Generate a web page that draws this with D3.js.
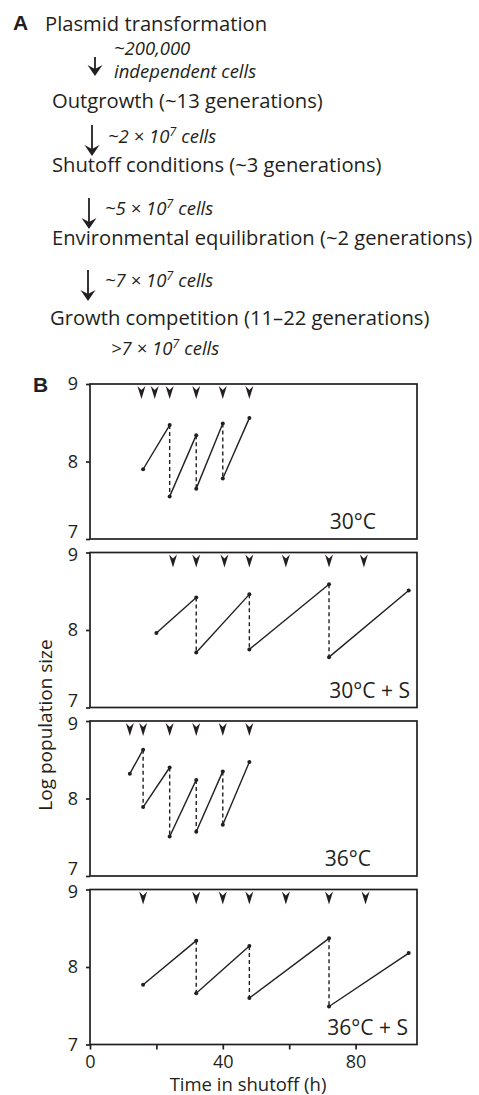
<!DOCTYPE html>
<html>
<head>
<meta charset="utf-8">
<script src="https://cdn.jsdelivr.net/npm/d3@7"></script>
<style>
  body { margin: 0; background: #fff; }
  svg { display: block; font-family: "Open Sans", sans-serif; }
</style>
</head>
<body>
<svg id="chart" width="479" height="1095"></svg>
<script>
// Panel A: protocol steps and the cell counts carried between them
const steps = [
  "Plasmid transformation",
  "Outgrowth (~13 generations)",
  "Shutoff conditions (~3 generations)",
  "Environmental equilibration (~2 generations)",
  "Growth competition (11–22 generations)"
];
const cellCounts = [
  ["~200,000", "independent cells"],
  ["~2 × 10^7 cells"],
  ["~5 × 10^7 cells"],
  ["~7 × 10^7 cells"],
  [">7 × 10^7 cells"]
];

// Panel B: growth segments [startTime, startLog, endTime, endLog]
const conditions = ["30°C", "30°C + S", "36°C", "36°C + S"];
const growth30 = [[16, 7.90, 24, 8.47], [24, 7.55, 32, 8.34], [32, 7.65, 40, 8.49], [40, 7.78, 48, 8.56]];
const growth30S = [[20, 7.96, 32, 8.42], [32, 7.71, 48, 8.46], [48, 7.75, 72, 8.59], [72, 7.65, 96, 8.51]];
const growth36 = [[12, 8.32, 16, 8.63], [16, 7.89, 24, 8.40], [24, 7.51, 32, 8.24], [32, 7.57, 40, 8.35], [40, 7.66, 48, 8.47]];
const growth36S = [[16, 7.77, 32, 8.34], [32, 7.66, 48, 8.27], [48, 7.60, 72, 8.37], [72, 7.49, 96, 8.18]];
// sampling times (arrowheads along the top)
const samples30 = [15.5, 19.5, 24, 32, 40, 48];
const samples30S = [25, 32, 40.5, 48, 59, 72, 82.5];
const samples36 = [12, 16, 24, 32, 40, 48];
const samples36S = [16, 32, 40, 48, 59, 72, 83];

const yTicks = [7, 8, 9];
const xTicks = [0, 20, 40, 60, 80];
const xTickLabels = ["0", "", "40", "", "80"];

const ink = "#231f20";
const svg = d3.select("#chart");

// write "a × 10^7 b" with a raised exponent
function richText(sel, str) {
  const parts = str.split(/\^(\d+)/);
  parts.forEach((p, i) => {
    if (i % 2 === 1) {
      sel.append("tspan").attr("dy", -7).attr("font-size", "70%").text(p);
    } else if (p) {
      sel.append("tspan").attr("dy", i > 0 ? 7 : 0).text(p);
    }
  });
}

function downArrow(g, x, y0, y1) {
  g.append("line").attr("x1", x).attr("x2", x).attr("y1", y0).attr("y2", y1 - 6)
    .attr("stroke", ink).attr("stroke-width", 1.8);
  g.append("path")
    .attr("d", `M${x},${y1} L${x - 7.5},${y1 - 11} L${x},${y1 - 7} L${x + 7.5},${y1 - 11} Z`)
    .attr("fill", ink);
}

// ---- Panel A ----
const stepPos = [[45, 31], [52, 108], [52, 172], [52, 245], [50, 325]];
const arrowPos = [[95, 57, 76], [92, 125, 156], [89, 198, 229], [88, 270, 301]];
const countPos = [[114, 55], [108, 143], [105, 215], [105, 287], [111, 355]];

const gA = svg.append("g");
gA.append("text").attr("x", 13).attr("y", 30)
  .attr("font-family", "Liberation Sans, Arial, sans-serif").attr("font-weight", "bold")
  .attr("font-size", 21).attr("fill", ink).text("A");

steps.forEach((s, i) => {
  gA.append("text").attr("x", stepPos[i][0]).attr("y", stepPos[i][1])
    .attr("font-size", 20.2).attr("fill", ink).text(s);
});
arrowPos.forEach(a => downArrow(gA, a[0], a[1], a[2]));
cellCounts.forEach((lines, i) => {
  lines.forEach((l, j) => {
    const t = gA.append("text").attr("x", countPos[i][0]).attr("y", countPos[i][1] + j * 23)
      .attr("font-size", 18.5).attr("font-style", "italic").attr("fill", ink);
    richText(t, l);
  });
});

// ---- Panel B ----
const left = 90, right = 417, panelH = 155;
const tops = [384, 552.5, 721, 889.5];
const growth = [growth30, growth30S, growth36, growth36S];
const samples = [samples30, samples30S, samples36, samples36S];
const labelX = [376, 410, 371, 408];

const x = d3.scaleLinear().domain([0, 98.5]).range([left, right]);

svg.append("text").attr("x", 33).attr("y", 392)
  .attr("font-family", "Liberation Sans, Arial, sans-serif").attr("font-weight", "bold")
  .attr("font-size", 21).attr("fill", ink).text("B");

conditions.forEach((cond, k) => {
  const top = tops[k];
  const last = k === conditions.length - 1;
  const y = d3.scaleLinear().domain([7, 9]).range([top + panelH, top]);
  const g = svg.append("g");

  // frame
  g.append("rect").attr("x", left).attr("y", top).attr("width", right - left).attr("height", panelH)
    .attr("fill", "none").attr("stroke", ink).attr("stroke-width", 1.7);

  // y axis
  const ya = g.append("g").attr("transform", `translate(${left},0)`)
    .call(d3.axisLeft(y).tickValues(yTicks).tickFormat(d3.format("d")).tickSize(4).tickPadding(8));
  ya.select(".domain").remove();
  ya.selectAll("line").attr("stroke", ink).attr("stroke-width", 1.7);
  ya.selectAll("text").attr("font-family", "Open Sans, sans-serif").attr("font-size", 18).attr("fill", ink)
    .attr("dy", d => (d === 7 && !last) ? "-0.08em" : (d === 9 && k > 0) ? "0.45em" : "0.32em");

  // sampling arrowheads
  g.selectAll(".mark").data(samples[k]).join("path")
    .attr("d", d => `M${x(d)},${top + 15} L${x(d) - 4},${top + 2} L${x(d)},${top + 6} L${x(d) + 4},${top + 2} Z`)
    .attr("fill", ink);

  const segs = growth[k];
  // dilution (dashed)
  for (let i = 0; i < segs.length - 1; i++) {
    g.append("line")
      .attr("x1", x(segs[i][2])).attr("x2", x(segs[i + 1][0]))
      .attr("y1", y(segs[i][3])).attr("y2", y(segs[i + 1][1]))
      .attr("stroke", ink).attr("stroke-width", 1.4).attr("stroke-dasharray", "4,3");
  }
  // growth (solid)
  g.selectAll(".seg").data(segs).join("line")
    .attr("x1", d => x(d[0])).attr("y1", d => y(d[1]))
    .attr("x2", d => x(d[2])).attr("y2", d => y(d[3]))
    .attr("stroke", ink).attr("stroke-width", 1.4);
  const pts = segs.flatMap(d => [[d[0], d[1]], [d[2], d[3]]]);
  g.selectAll(".pt").data(pts).join("circle")
    .attr("cx", d => x(d[0])).attr("cy", d => y(d[1])).attr("r", 2)
    .attr("fill", ink);

  g.append("text").attr("x", labelX[k]).attr("y", top + panelH - 10)
    .attr("text-anchor", "end").attr("font-size", 21).attr("fill", ink).text(cond);

  if (last) {
    const xa = g.append("g").attr("transform", `translate(0,${top + panelH})`)
      .call(d3.axisBottom(x).tickValues(xTicks).tickFormat((d, i) => xTickLabels[i]).tickSize(5).tickPadding(6));
    xa.select(".domain").remove();
    xa.selectAll("line").attr("stroke", ink).attr("stroke-width", 1.7);
    xa.selectAll("text").attr("font-family", "Open Sans, sans-serif").attr("font-size", 18).attr("fill", ink);
  }
});

svg.append("text").attr("x", 248).attr("y", 1091).attr("text-anchor", "middle")
  .attr("font-size", 18.5).attr("fill", ink).text("Time in shutoff (h)");
svg.append("text").attr("transform", "translate(52,725) rotate(-90)").attr("text-anchor", "middle")
  .attr("font-size", 19).attr("fill", ink).text("Log population size");
</script>
</body>
</html>
